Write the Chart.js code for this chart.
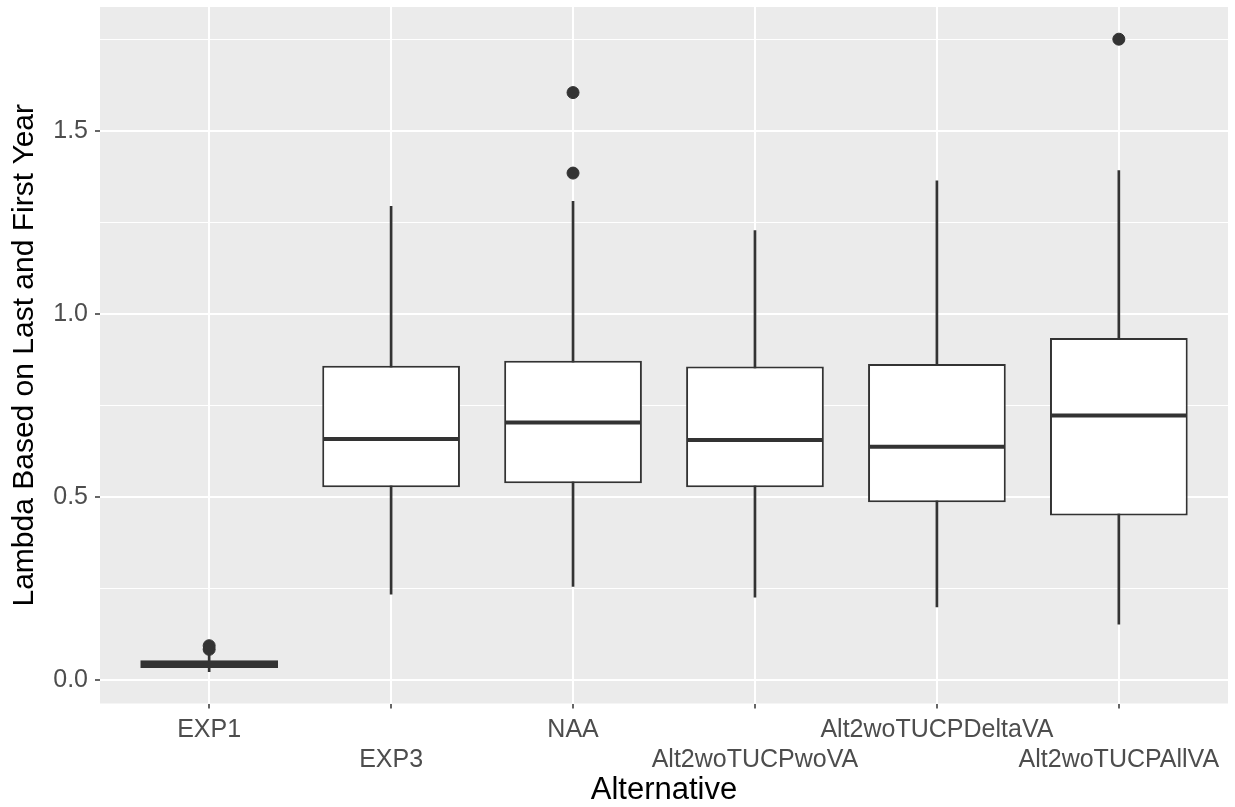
<!DOCTYPE html>
<html>
<head>
<meta charset="utf-8">
<script src="https://cdn.jsdelivr.net/npm/chart.js@4.4.1/dist/chart.umd.min.js"></script>
<style>
    body { margin: 0; background: #fff; }
    canvas { display: block; }
</style>
</head>
<body>
<canvas id="box-chart" width="1235" height="807"></canvas>
<script>
// Boxplot data
const alternatives = ['EXP1', 'EXP3', 'NAA', 'Alt2woTUCPwoVA', 'Alt2woTUCPDeltaVA', 'Alt2woTUCPAllVA'];
const whiskerLow  = [0.023, 0.235, 0.256, 0.227, 0.200, 0.153];
const q1          = [0.033, 0.527, 0.538, 0.527, 0.486, 0.450];
const median      = [0.044, 0.659, 0.704, 0.656, 0.638, 0.723];
const q3          = [0.054, 0.859, 0.873, 0.857, 0.864, 0.935];
const whiskerHigh = [0.076, 1.295, 1.309, 1.229, 1.365, 1.393];
const outliers    = [[0.094, 0.084], [], [1.606, 1.386], [], [], [1.752]];
const yTickValues = [0, 0.25, 0.5, 0.75, 1, 1.25, 1.5, 1.75];

const ink = '#333333';
const isMajor = v => Math.abs(v * 2 - Math.round(v * 2)) < 1e-6;

const panelPlugin = {
    id: 'panel',
    beforeDraw(chart) {
        const { ctx, chartArea: a } = chart;
        ctx.save();
        ctx.fillStyle = '#ffffff';
        ctx.fillRect(0, 0, chart.width, chart.height);
        ctx.fillStyle = '#EBEBEB';
        ctx.fillRect(a.left, a.top, a.right - a.left, a.bottom - a.top);
        ctx.restore();
    }
};

// median lines drawn across each box
const medianPlugin = {
    id: 'medians',
    afterDatasetsDraw(chart) {
        const { ctx } = chart;
        const meta = chart.getDatasetMeta(1);
        const y = chart.scales.y;
        ctx.save();
        ctx.strokeStyle = ink;
        ctx.lineWidth = 4;
        meta.data.forEach((bar, i) => {
            const py = y.getPixelForValue(median[i]);
            ctx.beginPath();
            ctx.moveTo(bar.x - bar.width / 2 + 1, py);
            ctx.lineTo(bar.x + bar.width / 2 - 1, py);
            ctx.stroke();
        });
        ctx.restore();
    }
};

const outlierPoints = [];
outliers.forEach((vals, i) => vals.forEach(v => outlierPoints.push({ x: i, y: v })));

const noPad = s => { s.paddingTop = 0; s.paddingBottom = 0; s.paddingLeft = 0; s.paddingRight = 0; };

new Chart(document.getElementById('box-chart').getContext('2d'), {
    type: 'bar',
    data: {
        datasets: [
            {
                type: 'scatter',
                data: outlierPoints,
                backgroundColor: ink,
                borderColor: ink,
                pointRadius: 6,
                order: 1
            },
            {
                data: alternatives.map((a, i) => ({ x: i, y: [q1[i], q3[i]] })),
                backgroundColor: '#ffffff',
                borderColor: ink,
                borderWidth: 2,
                borderSkipped: false,
                grouped: false,
                categoryPercentage: 1,
                barPercentage: 0.757,
                order: 2
            },
            {
                data: alternatives.map((a, i) => ({ x: i, y: [whiskerLow[i], whiskerHigh[i]] })),
                backgroundColor: ink,
                borderWidth: 0,
                grouped: false,
                categoryPercentage: 1,
                barPercentage: 1,
                maxBarThickness: 2,
                order: 3
            }
        ]
    },
    options: {
        responsive: false,
        animation: false,
        layout: { padding: { top: 5, right: 5, left: 0, bottom: 0 } },
        plugins: {
            legend: { display: false },
            tooltip: { enabled: false }
        },
        scales: {
            x: {
                type: 'linear',
                min: -0.6,
                max: 5.6,
                offset: false,
                afterBuildTicks: s => { s.ticks = alternatives.map((a, i) => ({ value: i })); },
                afterFit: s => { s.height = 103.5; noPad(s); },
                border: { display: false },
                grid: {
                    offset: false,
                    color: '#ffffff',
                    lineWidth: 2,
                    tickColor: ink,
                    tickLength: 5,
                    tickWidth: 1.5
                },
                ticks: {
                    padding: 6.5,
                    color: '#4D4D4D',
                    maxRotation: 0,
                    autoSkip: false,
                    font: { family: '"Liberation Sans", Arial, sans-serif', size: 25, lineHeight: 1.2 },
                    callback: v => (v % 2 === 0 ? [alternatives[v]] : ['', alternatives[v]])
                },
                title: {
                    display: true,
                    text: 'Alternative',
                    color: '#000000',
                    padding: { top: 0, bottom: 0 },
                    font: { family: '"Liberation Sans", Arial, sans-serif', size: 31, lineHeight: 1.06 }
                }
            },
            y: {
                min: -0.064,
                max: 1.84,
                afterBuildTicks: s => { s.ticks = yTickValues.map(v => ({ value: v })); },
                afterFit: s => { s.width = 100; noPad(s); },
                border: { display: false },
                grid: {
                    color: '#ffffff',
                    lineWidth: c => (isMajor(c.tick.value) ? 2 : 1),
                    tickColor: c => (isMajor(c.tick.value) ? ink : 'rgba(0,0,0,0)'),
                    tickLength: 5,
                    tickWidth: 1.5
                },
                ticks: {
                    padding: 7,
                    color: '#4D4D4D',
                    font: { family: '"Liberation Sans", Arial, sans-serif', size: 25 },
                    callback: v => (isMajor(v) ? v.toFixed(1) : '')
                },
                title: {
                    display: true,
                    text: 'Lambda Based on Last and First Year',
                    color: '#000000',
                    padding: { top: 7, bottom: 0 },
                    font: { family: '"Liberation Sans", Arial, sans-serif', size: 30, lineHeight: 1.2 }
                }
            }
        }
    },
    plugins: [panelPlugin, medianPlugin]
});
</script>
</body>
</html>
